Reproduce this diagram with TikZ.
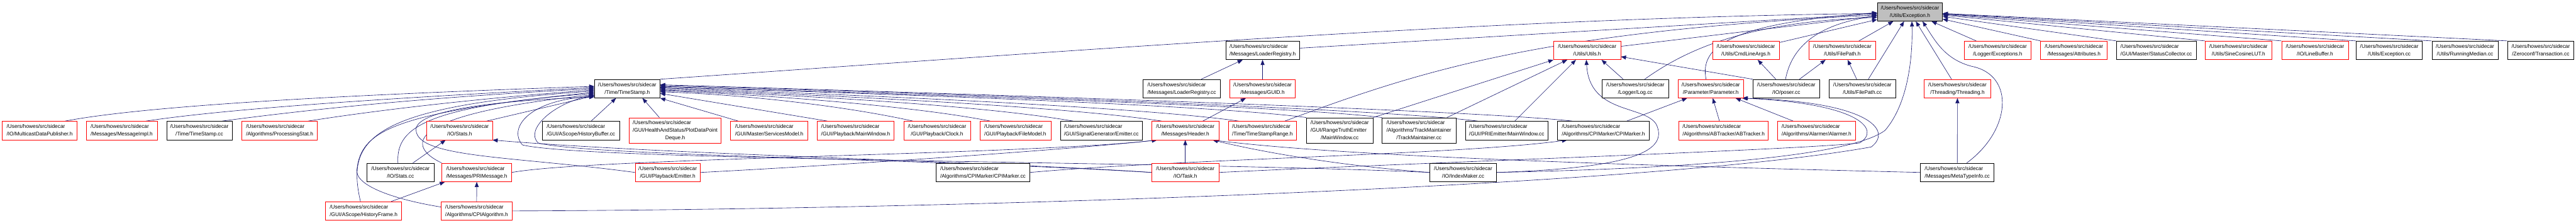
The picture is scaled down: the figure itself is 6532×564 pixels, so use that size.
\documentclass[tikz,border=0pt]{standalone}
\usepackage{fontspec}
\setmainfont{Liberation Sans}
\usetikzlibrary{arrows.meta,backgrounds}
\definecolor{inclBlue}{RGB}{25,25,112}
\definecolor{nodeGray}{RGB}{191,191,191}
% two and three line file labels: first lines flush left, last line centred
\newcommand{\flab}[2]{\begin{tabular}{@{}l@{}}#1\\\multicolumn{1}{@{}c@{}}{#2}\end{tabular}}
\newcommand{\flabt}[3]{\begin{tabular}{@{}l@{}}#1\\#2\\\multicolumn{1}{@{}c@{}}{#3}\end{tabular}}

\begin{document}
\begin{tikzpicture}[x=1pt, y=-1pt,
    file/.style={draw, fill=white, line width=1pt, minimum height=47pt, inner sep=0pt,
      anchor=west, font=\fontsize{13.25}{19}\selectfont},
    hfile/.style={file, draw=red},
    cfile/.style={file, draw=black},
    tall/.style={minimum height=65pt},
    incl/.style={draw=inclBlue, line width=1pt, -{Triangle[length=13pt,width=10pt]}},
  ]
  \useasboundingbox (0,0) rectangle (6532,564);

  % the file itself
  \node[cfile, fill=nodeGray, minimum width=165pt] (exc) at (4760,30) {\flab{/Users/howes/src/sidecar}{/Utils/Exception.h}};

  % second row
  \node[cfile, minimum width=186pt] (ldrh) at (3108,127.5) {\flab{/Users/howes/src/sidecar}{/Messages/LoaderRegistry.h}};
  \node[hfile, minimum width=170pt] (utils) at (3939,127.5) {\flab{/Users/howes/src/sidecar}{/Utils/Utils.h}};
  \node[hfile, minimum width=169pt] (cmdl) at (4342,127.5) {\flab{/Users/howes/src/sidecar}{/Utils/CmdLineArgs.h}};
  \node[hfile, minimum width=170pt] (fph) at (4586,127.5) {\flab{/Users/howes/src/sidecar}{/Utils/FilePath.h}};
  \node[hfile, minimum width=170pt] (logexc) at (4980,127.5) {\flab{/Users/howes/src/sidecar}{/Logger/Exceptions.h}};
  \node[hfile, minimum width=169pt] (attr) at (5174,127.5) {\flab{/Users/howes/src/sidecar}{/Messages/Attributes.h}};
  \node[cfile, minimum width=202pt] (stcol) at (5366,127.5) {\flab{/Users/howes/src/sidecar}{/GUI/Master/StatusCollector.cc}};
  \node[hfile, minimum width=169pt] (sincos) at (5591,127.5) {\flab{/Users/howes/src/sidecar}{/Utils/SineCosineLUT.h}};
  \node[hfile, minimum width=169pt] (lbuf) at (5785,127.5) {\flab{/Users/howes/src/sidecar}{/IO/LineBuffer.h}};
  \node[cfile, minimum width=168pt] (exccc) at (5974,127.5) {\flab{/Users/howes/src/sidecar}{/Utils/Exception.cc}};
  \node[cfile, minimum width=168pt] (rmed) at (6166,127.5) {\flab{/Users/howes/src/sidecar}{/Utils/RunningMedian.cc}};
  \node[cfile, minimum width=168pt] (trans) at (6358,127.5) {\flab{/Users/howes/src/sidecar}{/Zeroconf/Transaction.cc}};

  % third row
  \node[cfile, minimum width=166pt] (ts) at (1507,224.5) {\flab{/Users/howes/src/sidecar}{/Time/TimeStamp.h}};
  \node[cfile, minimum width=196pt] (ldrcc) at (2898,224.5) {\flab{/Users/howes/src/sidecar}{/Messages/LoaderRegistry.cc}};
  \node[hfile, minimum width=166pt] (guid) at (3118,224.5) {\flab{/Users/howes/src/sidecar}{/Messages/GUID.h}};
  \node[cfile, minimum width=170pt] (logcc) at (4061,224.5) {\flab{/Users/howes/src/sidecar}{/Logger/Log.cc}};
  \node[hfile, minimum width=165pt] (param) at (4255,224.5) {\flab{/Users/howes/src/sidecar}{/Parameter/Parameter.h}};
  \node[cfile, minimum width=170pt] (poser) at (4444,224.5) {\flab{/Users/howes/src/sidecar}{/IO/poser.cc}};
  \node[cfile, minimum width=170pt] (fpcc) at (4637,224.5) {\flab{/Users/howes/src/sidecar}{/Utils/FilePath.cc}};
  \node[hfile, minimum width=170pt] (thr) at (4878,224.5) {\flab{/Users/howes/src/sidecar}{/Threading/Threading.h}};

  % fourth row
  \node[hfile, minimum width=190pt] (mcast) at (5,330.5) {\flab{/Users/howes/src/sidecar}{/IO/MulticastDataPublisher.h}};
  \node[hfile, minimum width=180pt] (mimpl) at (218,330.5) {\flab{/Users/howes/src/sidecar}{/Messages/MessageImpl.h}};
  \node[cfile, minimum width=166pt] (tscc) at (422,330.5) {\flab{/Users/howes/src/sidecar}{/Time/TimeStamp.cc}};
  \node[hfile, minimum width=191pt] (pstat) at (613,330.5) {\flab{/Users/howes/src/sidecar}{/Algorithms/ProcessingStat.h}};
  \node[hfile, minimum width=166pt] (statsh) at (1082,330.5) {\flab{/Users/howes/src/sidecar}{/IO/Stats.h}};
  \node[cfile, minimum width=195pt] (hbuf) at (1375,330.5) {\flab{/Users/howes/src/sidecar}{/GUI/AScope/HistoryBuffer.cc}};
  \node[hfile, tall, minimum width=233pt] (plotdq) at (1595,330.5) {\flabt{/Users/howes/src/sidecar}{/GUI/HealthAndStatus/PlotDataPoint}{Deque.h}};
  \node[hfile, minimum width=196pt] (svcm) at (1852,330.5) {\flab{/Users/howes/src/sidecar}{/GUI/Master/ServicesModel.h}};
  \node[hfile, minimum width=194pt] (pbmw) at (2072,330.5) {\flab{/Users/howes/src/sidecar}{/GUI/Playback/MainWindow.h}};
  \node[hfile, minimum width=169pt] (clock) at (2291,330.5) {\flab{/Users/howes/src/sidecar}{/GUI/Playback/Clock.h}};
  \node[hfile, minimum width=180pt] (fmodel) at (2484,330.5) {\flab{/Users/howes/src/sidecar}{/GUI/Playback/FileModel.h}};
  \node[cfile, minimum width=208pt] (sgemit) at (2688,330.5) {\flab{/Users/howes/src/sidecar}{/GUI/SignalGenerator/Emitter.cc}};
  \node[hfile, minimum width=170pt] (hdr) at (2920,330.5) {\flab{/Users/howes/src/sidecar}{/Messages/Header.h}};
  \node[hfile, minimum width=173pt] (tsr) at (3114,330.5) {\flab{/Users/howes/src/sidecar}{/Time/TimeStampRange.h}};
  \node[cfile, tall, minimum width=169pt] (rtmw) at (3312,330.5) {\flabt{/Users/howes/src/sidecar}{/GUI/RangeTruthEmitter}{/MainWindow.cc}};
  \node[cfile, tall, minimum width=187pt] (trkm) at (3504,330.5) {\flabt{/Users/howes/src/sidecar}{/Algorithms/TrackMaintainer}{/TrackMaintainer.cc}};
  \node[cfile, minimum width=210pt] (primw) at (3715,330.5) {\flab{/Users/howes/src/sidecar}{/GUI/PRIEmitter/MainWindow.cc}};
  \node[cfile, minimum width=232pt] (cpimh) at (3949,330.5) {\flab{/Users/howes/src/sidecar}{/Algorithms/CPIMarker/CPIMarker.h}};
  \node[hfile, minimum width=226pt] (abtr) at (4257,330.5) {\flab{/Users/howes/src/sidecar}{/Algorithms/ABTracker/ABTracker.h}};
  \node[hfile, minimum width=199pt] (alarm) at (4506,330.5) {\flab{/Users/howes/src/sidecar}{/Algorithms/Alarmer/Alarmer.h}};

  % fifth row
  \node[cfile, minimum width=170pt] (statscc) at (930,436.5) {\flab{/Users/howes/src/sidecar}{/IO/Stats.cc}};
  \node[hfile, minimum width=177pt] (primsg) at (1120,436.5) {\flab{/Users/howes/src/sidecar}{/Messages/PRIMessage.h}};
  \node[hfile, minimum width=165pt] (pbemit) at (1610,436.5) {\flab{/Users/howes/src/sidecar}{/GUI/Playback/Emitter.h}};
  \node[cfile, minimum width=238pt] (cpimcc) at (2373,436.5) {\flab{/Users/howes/src/sidecar}{/Algorithms/CPIMarker/CPIMarker.cc}};
  \node[hfile, minimum width=170pt] (task) at (2920,436.5) {\flab{/Users/howes/src/sidecar}{/IO/Task.h}};
  \node[cfile, minimum width=169pt] (idxm) at (3625,436.5) {\flab{/Users/howes/src/sidecar}{/IO/IndexMaker.cc}};
  \node[cfile, minimum width=187pt] (meta) at (4869,436.5) {\flab{/Users/howes/src/sidecar}{/Messages/MetaTypeInfo.cc}};

  % bottom row
  \node[hfile, minimum width=193pt] (hframe) at (825,534) {\flab{/Users/howes/src/sidecar}{/GUI/AScope/HistoryFrame.h}};
  \node[hfile, minimum width=180pt] (cpialg) at (1118,534) {\flab{/Users/howes/src/sidecar}{/Algorithms/CPIAlgorithm.h}};

  \begin{scope}[on background layer]
    % into Exception.h
    \foreach \n in {attr,stcol,sincos,lbuf,exccc,rmed,trans}
      \draw[incl] (\n.north west) -- (exc);
    \draw[incl] ([xshift=31pt]logexc.north west) -- (exc);
    \draw[incl] (ldrh) -- (exc);
    \draw[incl] (utils) -- (exc);
    \draw[incl] (cmdl) -- (exc);
    \draw[incl] (fph) -- (exc);
    \draw[incl] ([xshift=15pt]fpcc.north) -- (exc);
    \draw[incl] ([xshift=-15pt]thr.north) -- (exc);
    \draw[incl] (ts.north east) .. controls (2700,130) and (3800,45) .. ([yshift=-4pt]exc.west);
    \draw[incl] ([xshift=-30pt]tsr.north east) .. controls (3600,180) and (3900,80) .. ([yshift=-8pt]exc.west);
    \draw[incl] ([xshift=24pt]logcc.north) .. controls (4290,115) and (4450,55) .. ([yshift=-14pt]exc.west);
    \draw[incl] ([xshift=-12pt]param.north) .. controls (4310,120) and (4380,60) .. ([yshift=-2pt]exc.west);
    \draw[incl] ([xshift=-2pt]poser.north) .. controls (4545,110) and (4620,60) .. ([yshift=-10pt]exc.west);
    \draw[incl] ([xshift=24pt]meta.north) .. controls (5100,330) and (5110,190) .. (5000,168)
      .. controls (4930,150) and (4905,100) .. ([xshift=32pt]exc.south);
    \draw[incl] (idxm.east) .. controls (4350,425) and (4700,390) .. (4780,330)
      .. controls (4840,260) and (4850,140) .. ([xshift=5pt]exc.south);

    % into Utils.h
    \draw[incl] (rtmw.north east) -- (utils.south west);
    \draw[incl] ([xshift=-23pt]trkm.north east) -- ([xshift=35pt]utils.south west);
    \draw[incl] ([xshift=126pt]primw.north west) -- ([xshift=57pt]utils.south west);
    \draw[incl] ([xshift=55pt]logcc.north west) -- ([xshift=122pt]utils.south west);
    \draw[incl] (poser.north west) -- ([yshift=-16pt]utils.east);
    \draw[incl] (idxm.east) .. controls (4150,425) and (4230,380) .. (4200,315)
      .. controls (4170,265) and (4030,290) .. ([xshift=-2pt]utils.south);

    % loader registry and GUID
    \draw[incl] ([xshift=-49pt]ldrcc.north east) -- ([xshift=43pt]ldrh.south west);
    \draw[incl] (guid) -- (ldrh);
    \draw[incl] ([xshift=-41pt]hdr.north east) -- ([xshift=41pt]guid.south west);

    % command line and file path
    \draw[incl] ([xshift=59pt]poser.north west) -- ([xshift=115pt]cmdl.south west);
    \draw[incl] ([xshift=119pt]poser.north west) -- ([xshift=43pt]fph.south west);
    \draw[incl] ([xshift=71pt]fpcc.north west) -- ([xshift=99pt]fph.south west);

    % into Parameter.h
    \draw[incl] ([xshift=176pt]cpimh.north west) -- ([xshift=23pt]param.south west);
    \draw[incl] ([xshift=103pt]abtr.north west) -- ([xshift=88pt]param.south west);
    \draw[incl] ([xshift=41pt]alarm.north west) -- ([xshift=146pt]param.south west);
    \draw[incl] (task.east) .. controls (3600,412) and (4550,380) .. (4715,362)
      .. controls (4770,330) and (4720,262) .. ([xshift=-4pt]param.south east);
    \draw[incl] (cpialg.east) .. controls (2500,530) and (4200,470) .. (4745,372)
      .. controls (4800,330) and (4740,258) .. ([xshift=-2pt]param.south east);

    % threading
    \draw[incl] (meta) -- (thr);

    % into Stats.h and PRIMessage.h
    \draw[incl] ([xshift=117pt]statscc.north west) -- ([xshift=48pt]statsh.south west);
    \draw[incl] (task.west) .. controls (2500,408) and (1700,392) .. (statsh.south east);
    \draw[incl] (cpialg) -- (primsg);
    \draw[incl] ([xshift=-27pt]hframe.north east) -- ([xshift=8pt]primsg.south west);

    % into Header.h
    \draw[incl] (task) -- (hdr);
    \draw[incl] (primsg.east) .. controls (1500,400) and (2600,392) .. ([xshift=14pt]hdr.south west);
    \draw[incl] (pbemit.east) .. controls (2100,420) and (2700,380) .. ([xshift=14pt]hdr.south west);
    \draw[incl] (idxm.west) .. controls (3400,420) and (3200,385) .. ([xshift=-16pt]hdr.south east);
    \draw[incl] (meta.west) .. controls (4100,418) and (3400,395) .. ([xshift=-16pt]hdr.south east);

    % into CPIMarker.h
    \draw[incl] (cpimcc.east) .. controls (3000,402) and (3700,392) .. ([xshift=25pt]cpimh.south west);

    % into TimeStamp.h from the left
    \draw[incl] ([xshift=160pt]mcast.north west) .. controls (400,262) and (1000,236) .. ([yshift=6pt]ts.west);
    \draw[incl] ([xshift=152pt]mimpl.north west) .. controls (600,272) and (1050,245) .. ([yshift=3pt]ts.west);
    \draw[incl] ([xshift=141pt]tscc.north west) .. controls (800,275) and (1100,245) .. (ts.west);
    \draw[incl] ([xshift=168pt]pstat.north west) .. controls (950,280) and (1200,250) .. ([yshift=-3pt]ts.west);
    \draw[incl] ([xshift=89pt]hframe.north west) .. controls (880,360) and (920,270) .. ([yshift=-6pt]ts.west);
    \draw[incl] ([yshift=10pt]cpialg.west) .. controls (1000,505) and (900,470) .. (905,430)
      .. controls (915,330) and (1000,285) .. ([yshift=-9pt]ts.west);
    \draw[incl] ([xshift=79pt]statscc.north west) .. controls (1005,330) and (1060,270) .. ([yshift=-12pt]ts.west);
    \draw[incl] (primsg.north west) .. controls (1030,370) and (1020,290) .. ([yshift=-15pt]ts.west);
    \draw[incl] (pbemit.west) .. controls (1300,395) and (1060,400) .. (1055,330)
      .. controls (1050,280) and (1250,255) .. ([yshift=-21pt]ts.west);
    \draw[incl] ([xshift=-15pt]statsh.north east) -- ([yshift=-18pt]ts.west);
    \draw[incl] (task.west) .. controls (2300,400) and (1500,395) .. (1365,362)
      .. controls (1330,330) and (1400,262) .. ([yshift=-16pt]ts.west);
    \draw[incl] (idxm.west) .. controls (3000,408) and (1500,408) .. (1325,367)
      .. controls (1290,330) and (1330,255) .. ([yshift=-19pt]ts.west);

    % into TimeStamp.h from below and the right
    \draw[incl] ([xshift=124pt]hbuf.north west) -- ([xshift=55pt]ts.south west);
    \draw[incl] ([xshift=77pt]plotdq.north west) -- ([xshift=-45pt]ts.south east);
    \draw[incl] ([xshift=20pt]svcm.north west) -- (ts.south east);
    \draw[incl] ([xshift=26pt]pbmw.north west) -- ([yshift=-12pt]ts.east);
    \draw[incl] ([xshift=24pt]clock.north west) .. controls (2150,270) and (1900,240) .. ([yshift=-8pt]ts.east);
    \draw[incl] ([xshift=27pt]fmodel.north west) .. controls (2300,265) and (1900,238) .. ([yshift=-5pt]ts.east);
    \draw[incl] ([xshift=33pt]sgemit.north west) .. controls (2450,260) and (1900,236) .. ([yshift=-3pt]ts.east);
    \draw[incl] ([xshift=26pt]hdr.north west) .. controls (2650,262) and (1900,234) .. (ts.east);
    \draw[incl] ([xshift=27pt]tsr.north west) .. controls (2850,265) and (1950,232) .. ([yshift=2pt]ts.east);
    \draw[incl] (rtmw.north west) .. controls (3050,262) and (2000,230) .. ([yshift=4pt]ts.east);
    \draw[incl] (trkm.north west) .. controls (3250,265) and (2000,229) .. ([yshift=6pt]ts.east);
    \draw[incl] ([xshift=32pt]primw.north west) .. controls (3450,270) and (2100,228) .. ([yshift=8pt]ts.east);
    \draw[incl] ([xshift=38pt]cpimh.north west) .. controls (3700,275) and (2100,227) .. ([yshift=10pt]ts.east);
  \end{scope}
\end{tikzpicture}
\end{document}
